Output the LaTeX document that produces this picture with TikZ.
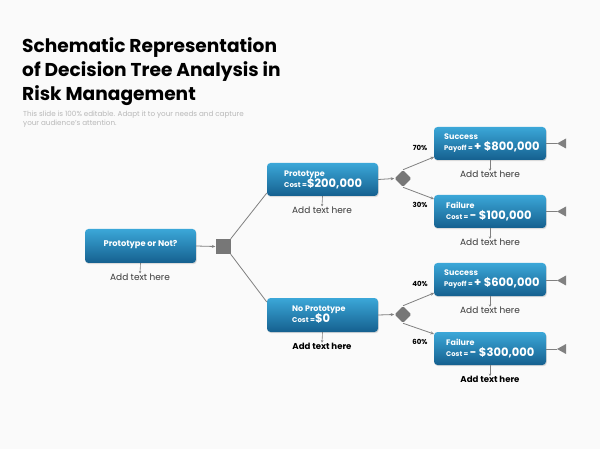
\documentclass[tikz,border=0pt]{standalone}
\usepackage{fontspec}
\setmainfont{Poppins}
\usetikzlibrary{shadows,arrows.meta}
\definecolor{bgc}{HTML}{FAFAFA}
\definecolor{btop}{HTML}{3BA7D8}
\definecolor{bbot}{HTML}{15608F}
\definecolor{conn}{HTML}{808080}
\definecolor{shapec}{HTML}{777777}
\definecolor{txt}{HTML}{3A3A3A}
\definecolor{subc}{HTML}{B8B8B8}
\tikzset{
  box/.style={rounded corners=3.5pt, top color=btop, bottom color=bbot, draw=none,
    minimum width=112pt, minimum height=33pt, inner sep=0pt,
    drop shadow={opacity=0.25, shadow xshift=0.8pt, shadow yshift=-1.2pt}},
  btxt/.style={text=white, font=\bfseries, align=left, inner sep=0pt, anchor=west},
  addt/.style={text=txt, font=\fontsize{9}{10}\selectfont, inner sep=0pt},
  addb/.style={text=black, font=\fontsize{8.6}{10}\selectfont\bfseries, inner sep=0pt},
  conline/.style={draw=conn, line width=0.8pt},
  conarr/.style={draw=conn, line width=0.8pt, -{Stealth[length=3.5pt,width=3pt]}},
  smallarr/.style={draw=conn, line width=0.6pt, -{Stealth[length=2.5pt,width=2.5pt]}},
  pct/.style={font=\fontsize{7}{8}\selectfont\bfseries, text=black, inner sep=0pt},
  tri/.style={fill=conn, draw=none}
}
\begin{document}
\begin{tikzpicture}[x=1pt,y=-1pt]
\fill[bgc] (0,0) rectangle (600,449);
\useasboundingbox (0,0) rectangle (600,449);
% title
\node[anchor=north west, align=left, inner sep=0pt, font=\fontsize{18.6}{24}\selectfont\bfseries, text=black] (title) at (22,37)
  {Schematic Representation\\of Decision Tree Analysis in\\Risk Management};
\node[anchor=north west, align=left, inner sep=0pt, font=\fontsize{7.2}{9}\selectfont, text=subc] (sub) at (23,111)
  {This slide is 100\% editable. Adapt it to your needs and capture\\your audience's attention.};

% root
\node[box, minimum width=111pt, minimum height=34pt] (root) at (140.5,246) {};
\node[text=white, font=\fontsize{8.3}{9}\selectfont\bfseries, inner sep=0pt] (roott) at (140.5,245) {Prototype or Not?};
\node[addt] (roota) at (140,277) {Add text here};
\draw[smallarr] (root.south) -- (roota.north);
\node[fill=shapec, minimum size=15pt, inner sep=0pt] (sq) at (223,246.5) {};
\draw[conarr] (root.east) -- (sq.west);

% prototype
\node[box, minimum width=111pt] (p) at (322.5,179.5) {};
\node[btxt] (pt) at (284,179.5) {\fontsize{8}{12}\selectfont Prototype\\[-1pt]\fontsize{7}{12}\selectfont Cost =\fontsize{11.5}{12}\selectfont\$200,000};
\node[addt] (pa) at (322,210) {Add text here};
\draw[smallarr] (p.south) -- (pa.north);

% no prototype
\node[box, minimum width=111pt, minimum height=34pt] (np) at (322.5,315) {};
\node[btxt] (npt) at (292,315) {\fontsize{8}{12}\selectfont No Prototype\\[-1pt]\fontsize{7}{12}\selectfont Cost =\fontsize{11.5}{12}\selectfont\$0};
\node[addb] (npa) at (322,346) {Add text here};
\draw[smallarr] (np.south) -- (npa.north);

\draw[conline] (sq.north east) -- (p.south west |- 0,193) coordinate (pin);
\draw[conline] (sq.south east) -- (np.north west |- 0,302) coordinate (npin);

% diamonds
\node[fill=shapec, rounded corners=1.5pt, minimum size=12pt, inner sep=0pt, rotate=45] (d1) at (403,178.5) {};
\node[fill=shapec, rounded corners=1.5pt, minimum size=12pt, inner sep=0pt, rotate=45] (d2) at (403,314.5) {};
\draw[conarr] (p.east) -- (d1.north west);
\draw[conarr] (np.east) -- (d2.north west);

% outcome boxes
\node[box] (s1) at (490,143.5) {};
\node[btxt] (s1t) at (444,143.5) {\fontsize{8}{12}\selectfont Success\\[-1pt]\fontsize{6.8}{12}\selectfont Payoff = \fontsize{11.5}{12}\selectfont + \$800,000};
\node[addt] (s1a) at (490,174.5) {Add text here};
\draw[smallarr] (s1.south) -- (s1a.north);

\node[box] (f1) at (490,211.5) {};
\node[btxt] (f1t) at (446,211.5) {\fontsize{8}{12}\selectfont Failure\\[-1pt]\fontsize{6.8}{12}\selectfont Cost = \fontsize{11.5}{12}\selectfont - \$100,000};
\node[addt] (f1a) at (490,242.5) {Add text here};
\draw[smallarr] (f1.south) -- (f1a.north);

\node[box] (s2) at (490,279.5) {};
\node[btxt] (s2t) at (444,279.5) {\fontsize{8}{12}\selectfont Success\\[-1pt]\fontsize{6.8}{12}\selectfont Payoff = \fontsize{11.5}{12}\selectfont + \$600,000};
\node[addt] (s2a) at (490,310.5) {Add text here};
\draw[smallarr] (s2.south) -- (s2a.north);

\node[box] (f2) at (490,348.5) {};
\node[btxt] (f2t) at (446,348.5) {\fontsize{8}{12}\selectfont Failure\\[-1pt]\fontsize{6.8}{12}\selectfont Cost = \fontsize{11.5}{12}\selectfont - \$300,000};
\node[addb] (f2a) at (490,379.5) {Add text here};
\draw[smallarr] (f2.south) -- (f2a.north);

% diamond to outcomes
\coordinate (s1in) at (434,157);
\coordinate (f1in) at (434,199);
\coordinate (s2in) at (434,293);
\coordinate (f2in) at (434,334);
\draw[conarr] (d1.north east) -- (s1in);
\draw[conarr] (d1.south west) -- (f1in);
\draw[conarr] (d2.north east) -- (s2in);
\draw[conarr] (d2.south west) -- (f2in);

% percentages
\node[pct] (p70) at (420,147.5) {70\%};
\node[pct] (p30) at (420,205) {30\%};
\node[pct] (p40) at (420,284) {40\%};
\node[pct] (p60) at (420,342) {60\%};

% end triangles
\foreach \b/\y in {s1/143.5,f1/211.5,s2/280.5,f2/349} {
  \coordinate (\b tip) at (557,\y);
  \draw[conline] (\b.east |- 0,\y) -- (\b tip);
  \fill[tri] (\b tip) -- (566,\y-5) -- (566,\y+5) -- cycle;
}
\end{tikzpicture}
\end{document}
